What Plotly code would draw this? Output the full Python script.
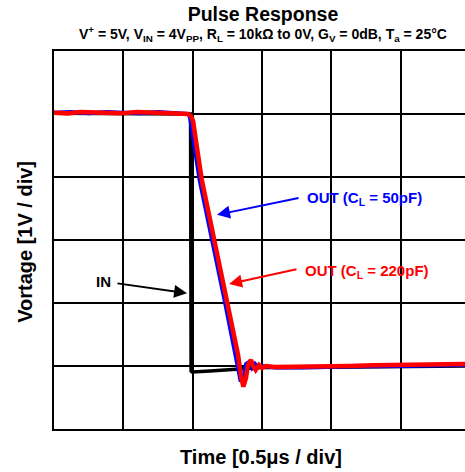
import plotly.graph_objects as go

# time in microseconds (0.5 us/div), voltage in volts (1 V/div)
out50_t = [0.0, 0.12, 0.25, 0.38, 0.5, 0.62, 0.75, 0.88, 0.967, 0.981, 1.050, 1.230, 1.313, 1.347,
           1.371, 1.385, 1.407, 1.429, 1.450, 1.472, 1.501, 1.60, 1.775, 2.0, 2.25, 2.496, 2.75, 2.965]
out50_v = [5.02, 5.03, 5.01, 5.03, 5.02, 5.01, 5.03, 5.02, 5.00, 4.95, 3.956, 2.05, 1.175, 0.751,
           0.858, 1.03, 1.064, 0.969, 1.033, 0.985, 1.0, 0.975, 0.977, 0.99, 0.995, 1.0, 1.01, 1.017]

out220_t = [0.0, 0.10, 0.188, 0.30, 0.476, 0.60, 0.693, 0.80, 0.909, 0.967, 0.988, 1.003, 1.066,
            1.246, 1.328, 1.349, 1.366, 1.385, 1.400, 1.421, 1.436, 1.455, 1.479, 1.501, 1.530,
            1.594, 1.775, 2.0, 2.136, 2.3, 2.496, 2.75, 2.965]
out220_v = [5.02, 5.01, 5.03, 5.02, 5.01, 5.03, 5.02, 5.01, 5.01, 5.00, 4.97, 4.89, 3.956,
            2.05, 1.175, 0.84, 0.672, 0.81, 1.017, 1.096, 1.0, 0.937, 1.017, 0.969, 1.0,
            0.985, 0.985, 0.995, 1.0, 1.01, 1.017, 1.025, 1.03]

in_t = [0.0, 0.25, 0.5, 0.75, 0.974, 0.985, 0.989, 0.996, 1.126, 1.342, 1.501, 1.775, 2.2, 2.496, 2.965]
in_v = [5.01, 5.01, 5.01, 5.01, 5.01, 5.00, 0.921, 0.905, 0.921, 0.953, 0.977, 0.977, 0.985, 0.993, 1.0]

x_range = [0, 2.965]
y_range = [0, 6]

fig = go.Figure()
fig.add_trace(go.Scatter(x=in_t, y=in_v, mode="lines", line=dict(color="black", width=3.5)))
fig.add_trace(go.Scatter(x=out50_t, y=out50_v, mode="lines", line=dict(color="#0000ff", width=4)))
fig.add_trace(go.Scatter(x=out220_t, y=out220_v, mode="lines", line=dict(color="#ff0000", width=4.5)))

font = "Liberation Sans, Arial, sans-serif"
ann = []
# arrows
ann.append(dict(x=1.176, y=3.40, ax=1.775, ay=3.67, xref="x", yref="y", axref="x", ayref="y",
                text="", showarrow=True, arrowhead=2, arrowsize=1.3, arrowwidth=2, arrowcolor="#0000ff"))
ann.append(dict(x=1.263, y=2.303, ax=1.760, ay=2.542, xref="x", yref="y", axref="x", ayref="y",
                text="", showarrow=True, arrowhead=2, arrowsize=1.3, arrowwidth=2, arrowcolor="#ff0000"))
ann.append(dict(x=0.960, y=2.156, ax=0.447, ay=2.315, xref="x", yref="y", axref="x", ayref="y",
                text="", showarrow=True, arrowhead=2, arrowsize=1.3, arrowwidth=2, arrowcolor="black"))
# labels
ann.append(dict(x=1.811, y=3.654, xref="x", yref="y", text="<b>OUT (C<sub>L</sub> = 50pF)</b>",
                showarrow=False, xanchor="left", yanchor="middle", font=dict(family=font, size=15, color="#0000ff")))
ann.append(dict(x=1.797, y=2.499, xref="x", yref="y", text="<b>OUT (C<sub>L</sub> = 220pF)</b>",
                showarrow=False, xanchor="left", yanchor="middle", font=dict(family=font, size=15, color="#ff0000")))
ann.append(dict(x=0.426, y=2.335, xref="x", yref="y", text="<b>IN</b>",
                showarrow=False, xanchor="right", yanchor="middle", font=dict(family=font, size=15, color="black")))
# title + subtitle as one text block
title_text = ("<b><span style='font-size:19.5px'>Pulse Response</span><br>"
              "V<sup>+</sup> = 5V, V<sub>IN</sub> = 4V<sub>PP</sub>, R<sub>L</sub> = 10kΩ to 0V, "
              "G<sub>V</sub> = 0dB, T<sub>a</sub> = 25°C</b>")
ann.append(dict(x=0.508, y=1.0, xref="paper", yref="paper", yshift=5, text=title_text,
                showarrow=False, xanchor="center", yanchor="bottom", align="center",
                font=dict(family=font, size=14, color="black")))
ann.append(dict(x=0.504, y=-0.074, xref="paper", yref="paper", text="<b>Time [0.5μs / div]</b>",
                showarrow=False, xanchor="center", yanchor="middle", font=dict(family=font, size=20, color="black")))
ann.append(dict(x=-0.0706, y=0.495, xref="paper", yref="paper", text="<b>Vortage [1V / div]</b>",
                showarrow=False, xanchor="center", yanchor="middle", textangle=-90,
                font=dict(family=font, size=20, color="black")))

fig.update_layout(
    width=465, height=472,
    margin=dict(l=54, r=0, t=51, b=43),
    paper_bgcolor="white", plot_bgcolor="white",
    showlegend=False,
    annotations=ann,
    xaxis=dict(range=x_range, dtick=0.5, tick0=0, showgrid=True, gridcolor="black", gridwidth=1.5,
               showticklabels=False, ticks="", zeroline=False, showline=True, linecolor="black",
               linewidth=2, mirror=True, fixedrange=True),
    yaxis=dict(range=y_range, dtick=1, tick0=0, showgrid=True, gridcolor="black", gridwidth=1.5,
               showticklabels=False, ticks="", zeroline=False, showline=True, linecolor="black",
               linewidth=2, mirror=False, fixedrange=True),
)
# remove the browser's default 8px body margin so the figure fills the window
fig.write_html("out.html", config={"displayModeBar": False},
               post_script="document.body.style.margin='0';")
